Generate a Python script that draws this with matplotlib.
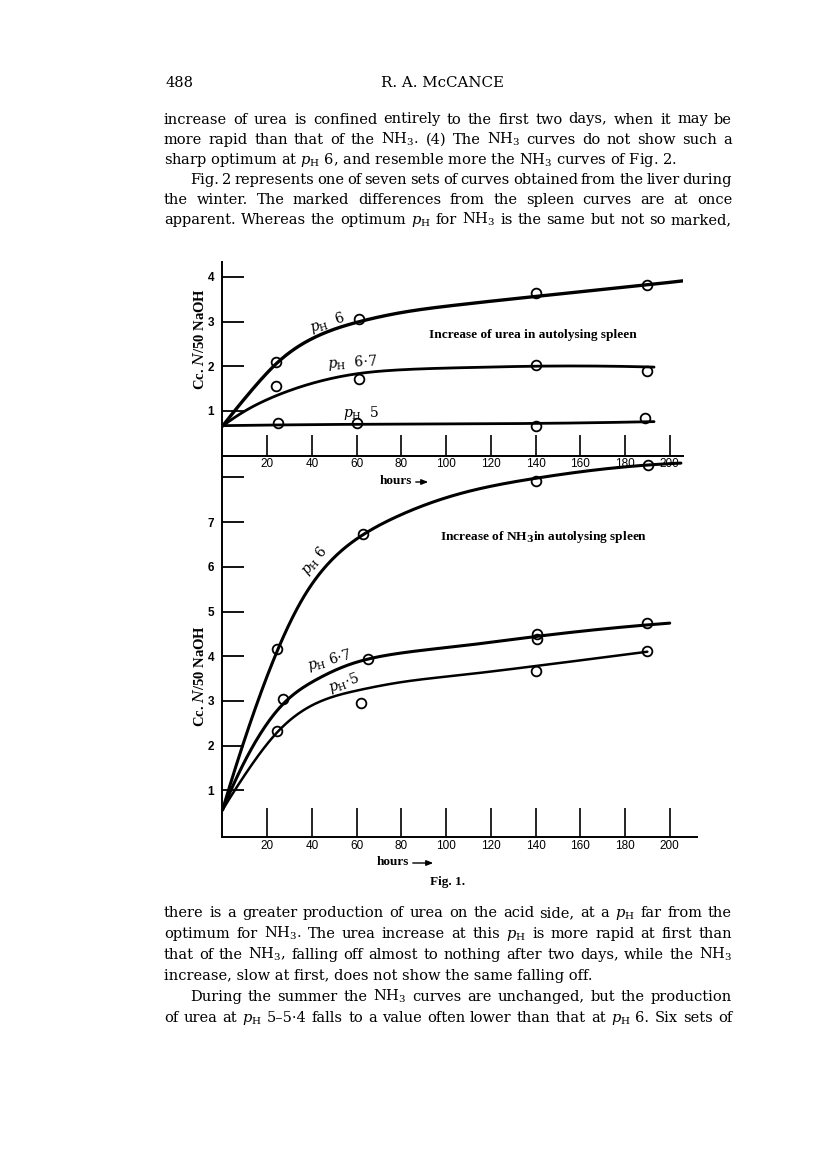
import numpy as np
import matplotlib
matplotlib.use("Agg")
import matplotlib.pyplot as plt
from matplotlib.patches import FancyArrowPatch

plt.rcParams['mathtext.fontset'] = 'dejavuserif'
plt.rcParams['font.family'] = ['DejaVu Serif']

# ---------------- data ----------------
hour_ticks = [20, 40, 60, 80, 100, 120, 140, 160, 180, 200]
urea_yticks = [1, 2, 3, 4]
nh3_yticks = [1, 2, 3, 4, 5, 6, 7, 8]
nh3_yticklabels = ['1', '2', '3', '4', '5', '6', '7', '']

# observed points (hours, cc N/50 NaOH) - urea
urea_ph6_h = [24, 61, 140, 190]
urea_ph6_v = [2.10, 3.06, 3.64, 3.82]
urea_ph67_h = [24, 61, 140, 190]
urea_ph67_v = [1.56, 1.71, 2.02, 1.89]
urea_ph5_h = [25, 60, 140, 189]
urea_ph5_v = [0.72, 0.72, 0.67, 0.83]

# hand-drawn curves (knots) - urea
urea_ph6_curve_h = [0, 12, 25, 41, 61.5, 80, 105, 140, 190, 206]
urea_ph6_curve_v = [0.66, 1.40, 2.10, 2.64, 3.00, 3.20, 3.37, 3.56, 3.82, 3.91]
urea_ph67_curve_h = [0, 11.5, 25, 41, 61.5, 80, 110, 140, 193]
urea_ph67_curve_v = [0.66, 1.04, 1.36, 1.63, 1.84, 1.92, 1.97, 2.00, 1.98]
urea_ph5_curve_h = [0, 60, 140, 193]
urea_ph5_curve_v = [0.67, 0.70, 0.72, 0.76]

# observed points - NH3
nh3_ph6_h = [24.5, 63, 140, 190.5]
nh3_ph6_v = [4.16, 6.73, 7.93, 8.28]
nh3_ph67_h = [27, 65, 140.5, 140.5, 190]
nh3_ph67_v = [3.04, 3.94, 4.50, 4.38, 4.74]
nh3_ph5_h = [24.5, 62, 140, 190]
nh3_ph5_v = [2.33, 2.95, 3.68, 4.12]

# hand-drawn curves - NH3
nh3_ph6_curve_h = [0, 12, 24.5, 36, 46, 62.3, 77, 105, 140, 164, 205]
nh3_ph6_curve_v = [0.56, 2.45, 4.12, 5.30, 6.00, 6.70, 7.10, 7.62, 7.98, 8.15, 8.32]
nh3_ph67_curve_h = [0, 11, 26.5, 41.4, 56, 77, 105, 140, 200]
nh3_ph67_curve_v = [0.56, 1.75, 2.90, 3.46, 3.80, 4.05, 4.22, 4.44, 4.74]
nh3_ph5_curve_h = [0, 11, 24.5, 40, 60, 80, 105, 140, 190]
nh3_ph5_curve_v = [0.56, 1.42, 2.30, 2.90, 3.23, 3.42, 3.57, 3.78, 4.10]

# page text
header_left = "488"
header_center = "R. A. McCANCE"
para_top = [
    ("increase of urea is confined entirely to the first two days, when it may be", 0, True),
    ("more rapid than that of the NH$_3$.  (4) The NH$_3$ curves do not show such a", 0, True),
    ("sharp optimum at $p_\\mathrm{H}$ 6, and resemble more the NH$_3$ curves of Fig. 2.", 0, False),
    ("Fig. 2 represents one of seven sets of curves obtained from the liver during", 1, True),
    ("the winter.  The marked differences from the spleen curves are at once", 0, True),
    ("apparent.  Whereas the optimum $p_\\mathrm{H}$ for NH$_3$ is the same but not so marked,", 0, True),
]
para_bottom = [
    ("there is a greater production of urea on the acid side, at a $p_\\mathrm{H}$ far from the", 0, True),
    ("optimum for NH$_3$.  The urea increase at this $p_\\mathrm{H}$ is more rapid at first than", 0, True),
    ("that of the NH$_3$, falling off almost to nothing after two days, while the NH$_3$", 0, True),
    ("increase, slow at first, does not show the same falling off.", 0, False),
    ("During the summer the NH$_3$ curves are unchanged, but the production", 1, True),
    ("of urea at $p_\\mathrm{H}$ 5\u20135\u00b74 falls to a value often lower than that at $p_\\mathrm{H}$ 6.  Six sets of", 0, True),
]

# ---------------- helpers ----------------
W, H = 816, 1174
fig = plt.figure(figsize=(W / 100, H / 100), dpi=100)
fig.patch.set_facecolor('white')
renderer = fig.canvas.get_renderer()


def fx(x):
    return x / W


def fy(y):
    return 1 - y / H


def runout_spline(x, y, xs):
    """Cubic spline with parabolic run-out ends (no inflection forced at the ends)."""
    x = np.asarray(x, float)
    y = np.asarray(y, float)
    n = len(x)
    h = np.diff(x)
    A = np.zeros((n, n))
    b = np.zeros(n)
    A[0, 0], A[0, 1] = 1, -1
    A[-1, -1], A[-1, -2] = 1, -1
    for i in range(1, n - 1):
        A[i, i - 1] = h[i - 1]
        A[i, i] = 2 * (h[i - 1] + h[i])
        A[i, i + 1] = h[i]
        b[i] = 6 * ((y[i + 1] - y[i]) / h[i] - (y[i] - y[i - 1]) / h[i - 1])
    M = np.linalg.solve(A, b)
    idx = np.clip(np.searchsorted(x, xs) - 1, 0, n - 2)
    hi = h[idx]
    a = x[idx + 1] - xs
    c = xs - x[idx]
    return (M[idx] * a**3 / (6 * hi) + M[idx + 1] * c**3 / (6 * hi)
            + (y[idx] / hi - M[idx] * hi / 6) * a + (y[idx + 1] / hi - M[idx + 1] * hi / 6) * c)


def draw_curve(ax, kx, ky, lw=2.0):
    xs = np.linspace(kx[0], kx[-1], 500)
    ax.plot(xs, runout_spline(kx, ky, xs), color='black', lw=lw, solid_capstyle='round', zorder=3)


def draw_points(ax, hx, vy):
    ax.plot(hx, vy, linestyle='none', marker='o', ms=7, mfc='none', mec='black', mew=1.3, zorder=4)


PX_PER_HOUR = 2.236
X0 = 222.5
LBL = dict(family=['Liberation Serif', 'DejaVu Serif'])


def make_axes(y_top, y_bot, xmax, ylo, yhi):
    x1 = X0 + xmax * PX_PER_HOUR
    ax = fig.add_axes([fx(X0), fy(y_bot), (x1 - X0) / W, (y_bot - y_top) / H])
    ax.set_xlim(0, xmax)
    ax.set_ylim(ylo, yhi)
    ax.patch.set_alpha(0)
    for s in ['top', 'right']:
        ax.spines[s].set_visible(False)
    for s in ['left', 'bottom']:
        ax.spines[s].set_linewidth(1.4)
    return ax


# ---------------- urea panel ----------------
ax1 = make_axes(262, 455.6, 206, 0, (455.6 - 262) / 44.7)
ax1.set_xticks(hour_ticks)
ax1.set_xticklabels([str(h) for h in hour_ticks], family='Liberation Sans', fontsize=8.5)
ax1.tick_params(axis='x', direction='in', length=15, width=1.2, pad=2)
ax1.set_yticks(urea_yticks)
ax1.set_yticklabels([str(v) for v in urea_yticks], family='Liberation Sans', fontsize=8.5, fontweight='bold')
ax1.tick_params(axis='y', direction='in', length=16, width=1.3, pad=6)

draw_curve(ax1, urea_ph6_curve_h, urea_ph6_curve_v, lw=2.4)
draw_curve(ax1, urea_ph67_curve_h, urea_ph67_curve_v, lw=2.0)
draw_curve(ax1, urea_ph5_curve_h, urea_ph5_curve_v, lw=2.0)
draw_points(ax1, urea_ph6_h, urea_ph6_v)
draw_points(ax1, urea_ph67_h, urea_ph67_v)
draw_points(ax1, urea_ph5_h, urea_ph5_v)

ax1.text(47.2, 2.96, r"$p_\mathrm{H}$  6", fontsize=10, rotation=18, ha='center', va='center')
ax1.text(58.1, 2.08, r"$p_\mathrm{H}$  6$\cdot$7", fontsize=10, rotation=3, ha='center', va='center')
ax1.text(62.0, 0.96, r"$p_\mathrm{H}$  5", fontsize=10, ha='center', va='center')
ax1.text(92.5, 2.70, "Increase of urea in autolysing spleen", fontsize=9.6,
         fontweight='bold', ha='left', va='center', **LBL)

# ---------------- NH3 panel ----------------
ax2 = make_axes(456, 837, 212, -(837 - 835) / 44.7, (835 - 456) / 44.7)
ax2.set_xticks(hour_ticks)
ax2.set_xticklabels([str(h) for h in hour_ticks], family='Liberation Sans', fontsize=8.5)
ax2.tick_params(axis='x', direction='in', length=21, width=1.2, pad=2)
ax2.set_yticks(nh3_yticks)
ax2.set_yticklabels(nh3_yticklabels, family='Liberation Sans', fontsize=8.5, fontweight='bold')
ax2.tick_params(axis='y', direction='in', length=16, width=1.3, pad=6)

draw_curve(ax2, nh3_ph6_curve_h, nh3_ph6_curve_v, lw=2.2)
draw_curve(ax2, nh3_ph67_curve_h, nh3_ph67_curve_v, lw=2.2)
draw_curve(ax2, nh3_ph5_curve_h, nh3_ph5_curve_v, lw=1.8)
draw_points(ax2, nh3_ph6_h, nh3_ph6_v)
draw_points(ax2, nh3_ph67_h, nh3_ph67_v)
draw_points(ax2, nh3_ph5_h, nh3_ph5_v)

ax2.text(41.0, 6.12, r"$p_\mathrm{H}$ 6", fontsize=10, rotation=50, ha='center', va='center')
ax2.text(48.0, 3.90, r"$p_\mathrm{H}$ 6$\cdot$7", fontsize=10, rotation=15, ha='center', va='center')
ax2.text(54.5, 3.40, r"$p_\mathrm{H}$$\cdot$5", fontsize=10, rotation=20, ha='center', va='center')
ax2.text(97.3, 6.67, r"Increase of NH$_\mathbf{3}$in autolysing spleen", fontsize=9.6,
         fontweight='bold', ha='left', va='center', **LBL)

# y labels
for yc in (339, 676):
    fig.text(fx(199), fy(yc), r"Cc. $N$/50 NaOH", rotation=90, fontsize=10.5,
             fontweight='bold', ha='center', va='center', **LBL)

# hours labels with arrows
for (xl, yc, xa0, xa1) in ((380, 481, 413, 431), (377, 862, 410, 436)):
    fig.text(fx(xl), fy(yc), "hours", fontsize=9.5, fontweight='bold', ha='left', va='center', **LBL)
    arr = FancyArrowPatch((fx(xa0), fy(yc + 1)), (fx(xa1), fy(yc + 1)), transform=fig.transFigure,
                          arrowstyle='-|>,head_length=4,head_width=1.6', lw=1.0, color='black',
                          mutation_scale=1)
    fig.add_artist(arr)

fig.text(fx(448), fy(882), "Fig. 1.", fontsize=9.5, fontweight='bold', ha='center', va='center', **LBL)

# ---------------- page text ----------------
TX0, TX1 = 164, 732
INDENT = 26

# body font size chosen so the unjustified line 3 has its printed length (511 px)
probe = fig.text(0, 0, para_top[2][0], fontsize=10)
FS = 10 * 511 / probe.get_window_extent(renderer).width
probe.remove()

fig.text(fx(165), fy(87), header_left, fontsize=FS, ha='left', va='baseline')
fig.text(fx(443), fy(87), header_center, fontsize=FS + 0.3, ha='center', va='baseline')


def put_line(txt, ybase, indent, justify):
    x0 = TX0 + indent * INDENT
    if not justify:
        fig.text(fx(x0), fy(ybase), txt, fontsize=FS, ha='left', va='baseline')
        return
    words = [w for w in txt.split(' ') if w != '']
    texts = [fig.text(0, 0, w, fontsize=FS, ha='left', va='baseline') for w in words]
    widths = [t.get_window_extent(renderer).width for t in texts]
    gap = (TX1 - x0 - sum(widths)) / (len(words) - 1)
    x = x0
    for t, w in zip(texts, widths):
        t.set_position((fx(x), fy(ybase)))
        x += w + gap


for i, (txt, ind, just) in enumerate(para_top):
    put_line(txt, 123.5 + 20.1 * i, ind, just)
for i, (txt, ind, just) in enumerate(para_bottom):
    put_line(txt, 917 + 21 * i, ind, just)

fig.savefig("out.png", dpi=100, facecolor='white')
